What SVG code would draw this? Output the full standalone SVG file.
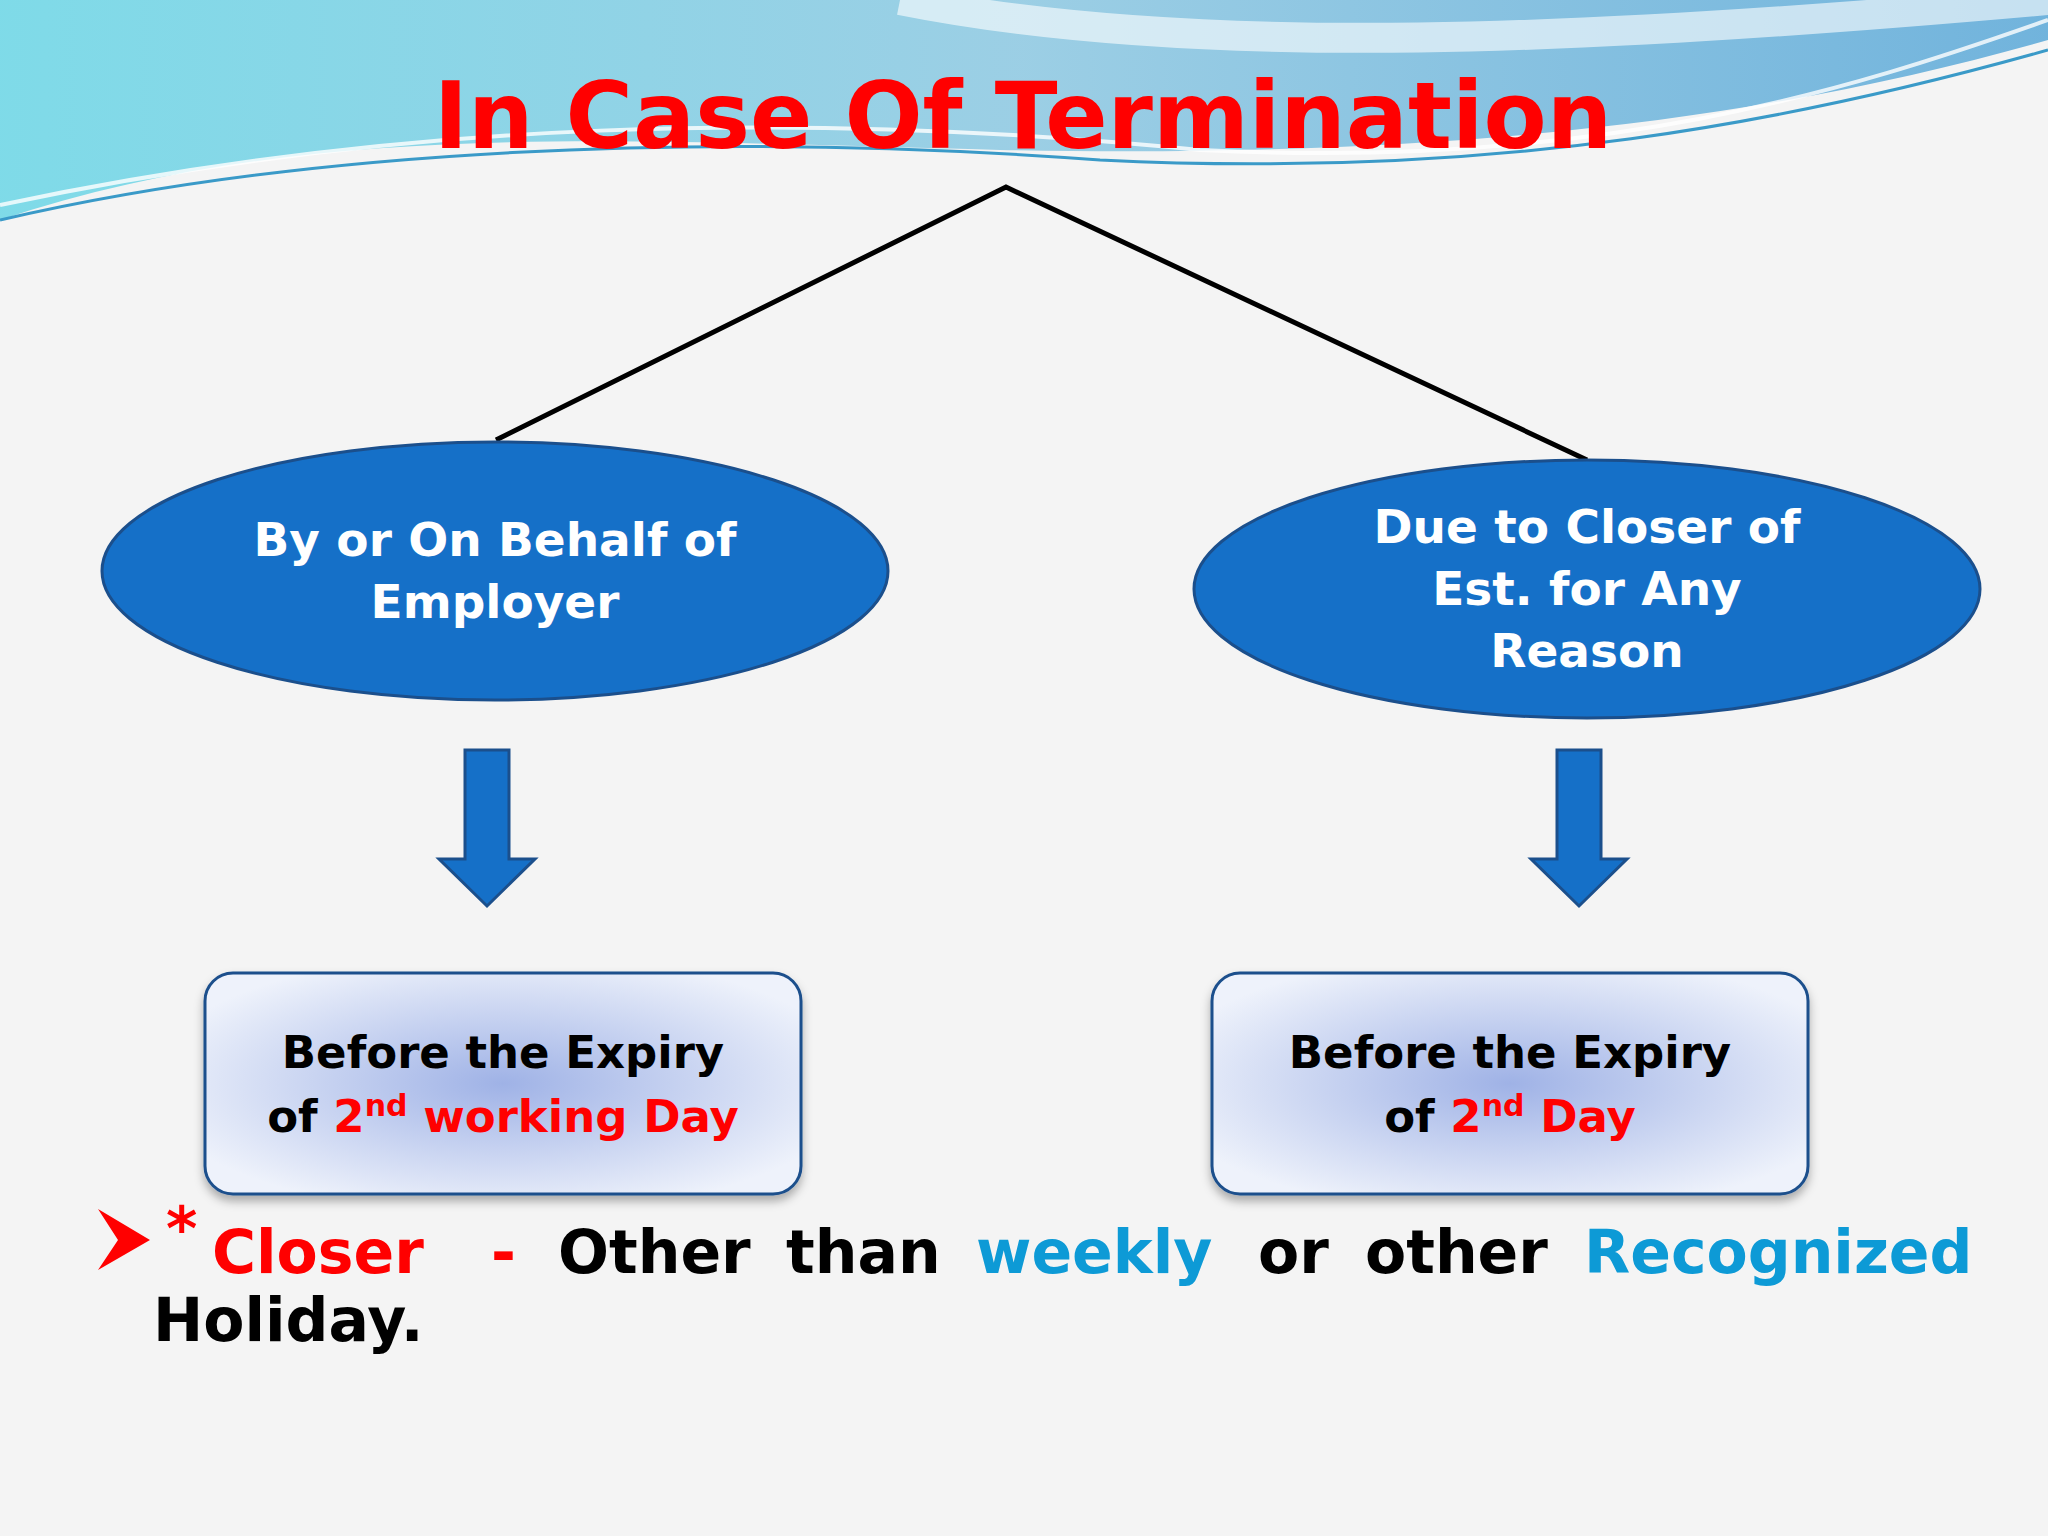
<svg xmlns="http://www.w3.org/2000/svg" width="2048" height="1536" viewBox="0 0 2048 1536">
<defs>
<style>
.t{font-family:"DejaVu Sans",Verdana,sans-serif;font-weight:bold}
.w{fill:#fff;font-size:47px}
.b{fill:#000;font-size:45px}
.r{fill:#ff0000}
.c{fill:#0d9ad6}
.line{stroke:#000;stroke-width:5;fill:none}
.ell{fill:#1570c8;stroke:#1b4f8c;stroke-width:3}
.box{fill:url(#g);stroke:#1b4f8c;stroke-width:3}
.arr{fill:#1570c8;stroke:#1b4f8c;stroke-width:3}
</style>
<radialGradient id="g" cx="0.5" cy="0.5" r="0.6">
<stop offset="0" stop-color="#9fb2e6"/><stop offset="1" stop-color="#eef2fb"/>
</radialGradient>
<linearGradient id="wave" x1="0" y1="0" x2="1" y2="0">
<stop offset="0" stop-color="#6ad6e6"/><stop offset="0.5" stop-color="#8cc8e2"/><stop offset="1" stop-color="#5aa8d8"/>
</linearGradient>
<filter id="sh" x="-10%" y="-10%" width="120%" height="130%"><feDropShadow dx="0" dy="6" stdDeviation="5" flood-opacity="0.3"/></filter>
</defs>
<rect width="2048" height="1536" fill="#f4f4f4"/>
<path d="M0 0H2048V40C1800 110 1500 160 1000 150C600 140 300 120 0 220Z" fill="url(#wave)" opacity="0.85"/>
<path d="M0 220C300 150 700 130 1100 160C1500 180 1800 120 2048 50" stroke="#3a9ac8" stroke-width="3" fill="none"/>
<path d="M0 205C400 120 800 110 1200 150C1600 170 1850 90 2048 20" stroke="#ffffff" stroke-width="4" fill="none" opacity="0.8"/>
<path d="M900 0C1200 60 1600 40 2048 0" stroke="#ffffff" stroke-width="30" fill="none" opacity="0.6"/>
<text class="t r" x="1023" y="148" font-size="92" text-anchor="middle">In Case Of Termination</text>
<g id="connectors">
<polyline class="line" points="496,440 1006,187 1587,460"/>
<path id="arrow1" class="arr" d="M465 750H509V859H535L487 906L439 859H465Z"/>
<path id="arrow2" class="arr" d="M1557 750H1601V859H1627L1579 906L1531 859H1557Z"/>
</g>
<g id="node-employer">
<ellipse class="ell" cx="495" cy="571" rx="393" ry="129"/>
<text class="t w" x="495" y="556" text-anchor="middle">By or On Behalf of</text>
<text class="t w" x="495" y="618" text-anchor="middle">Employer</text>
</g>
<g id="node-closer">
<ellipse class="ell" cx="1587" cy="589" rx="393" ry="129"/>
<text class="t w" x="1587" y="543" text-anchor="middle">Due to Closer of</text>
<text class="t w" x="1587" y="605" text-anchor="middle">Est. for Any</text>
<text class="t w" x="1587" y="667" text-anchor="middle">Reason</text>
</g>
<g id="box-left">
<rect class="box" x="205" y="973" width="596" height="221" rx="28" filter="url(#sh)"/>
<text class="t b" x="503" y="1068" text-anchor="middle">Before the Expiry</text>
<text class="t b" x="503" y="1132" text-anchor="middle">of <tspan class="r">2<tspan font-size="30" dy="-16">nd</tspan><tspan dy="16"> working Day</tspan></tspan></text>
</g>
<g id="box-right">
<rect class="box" x="1212" y="973" width="596" height="221" rx="28" filter="url(#sh)"/>
<text class="t b" x="1510" y="1068" text-anchor="middle">Before the Expiry</text>
<text class="t b" x="1510" y="1132" text-anchor="middle">of <tspan class="r">2<tspan font-size="30" dy="-16">nd</tspan><tspan dy="16"> Day</tspan></tspan></text>
</g>
<g id="note" class="t" font-size="60">
<path d="M98 1209L150 1240L98 1270L118 1240Z" fill="#ff0000"/>
<text x="166" y="1250" class="r" font-size="60">*</text>
<text x="212" y="1273" class="r">Closer</text>
<text x="491" y="1273" class="r">-</text>
<text x="558" y="1273">Other</text>
<text x="786" y="1273">than</text>
<text x="976" y="1273" class="c">weekly</text>
<text x="1258" y="1273">or</text>
<text x="1365" y="1273">other</text>
<text x="1584" y="1273" class="c">Recognized</text>
<text x="153" y="1341">Holiday.</text>
</g>
</svg>
